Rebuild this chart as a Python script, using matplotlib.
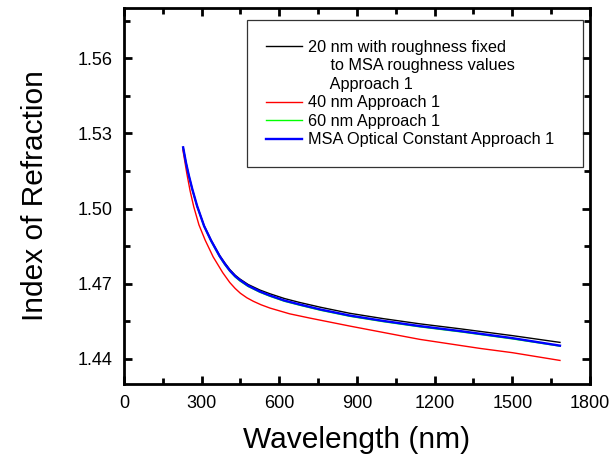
import matplotlib.pyplot as plt
from matplotlib.lines import Line2D
from matplotlib.ticker import MultipleLocator

plt.rcParams['font.family'] = ['Liberation Sans', 'DejaVu Sans']

# values (wavelength in nm, index n)
wl_black = [229, 240, 251, 265, 283, 310, 337, 370, 390, 409, 430, 448, 480,
            525, 564, 620, 680, 760, 873, 1000, 1143, 1300, 1500, 1684]
n_black = [1.5244, 1.5183, 1.5132, 1.5075, 1.5010, 1.4932, 1.4874, 1.4813,
           1.4783, 1.4757, 1.4734, 1.4719, 1.4697, 1.4675, 1.4660, 1.4641,
           1.4625, 1.4606, 1.4582, 1.4561, 1.4540, 1.4520, 1.4493, 1.4466]

wl_red = [228, 236, 243, 256, 270, 290, 314, 345, 382, 409, 430, 450, 475,
          500, 530, 564, 640, 718, 873, 1066, 1143, 1375, 1500, 1684]
n_red = [1.5234, 1.5185, 1.5141, 1.5070, 1.5007, 1.4935, 1.4874, 1.4807,
         1.4744, 1.4705, 1.4681, 1.4662, 1.4644, 1.4630, 1.4616, 1.4603,
         1.4580, 1.4563, 1.4531, 1.4493, 1.4478, 1.4442, 1.4425, 1.4394]

wl_green = [229, 240, 251, 265, 283, 310, 337, 370, 390, 409, 430, 448, 480,
            525, 564, 620, 680, 760, 873, 1000, 1143, 1300, 1500, 1684]
n_green = [1.5243, 1.5181, 1.5130, 1.5072, 1.5007, 1.4928, 1.4869, 1.4807,
           1.4776, 1.4750, 1.4727, 1.4711, 1.4689, 1.4666, 1.4650, 1.4630,
           1.4614, 1.4594, 1.4570, 1.4549, 1.4528, 1.4508, 1.4480, 1.4451]

wl_blue = [229, 240, 251, 265, 283, 310, 337, 370, 390, 409, 430, 448, 480,
           525, 564, 620, 680, 760, 873, 1000, 1143, 1300, 1500, 1684]
n_blue = [1.5244, 1.5183, 1.5132, 1.5075, 1.5010, 1.4930, 1.4872, 1.4810,
          1.4779, 1.4753, 1.4730, 1.4715, 1.4692, 1.4669, 1.4653, 1.4633,
          1.4617, 1.4597, 1.4573, 1.4552, 1.4531, 1.4511, 1.4483, 1.4453]

labels = ["20 nm with roughness fixed",
          "     to MSA roughness values",
          "     Approach 1",
          "40 nm Approach 1",
          "60 nm Approach 1",
          "MSA Optical Constant Approach 1  "]

fig = plt.figure(figsize=(6.13, 4.59), dpi=100)
ax = fig.add_axes([0.202, 0.1634, 0.7605, 0.8192])

l1, = ax.plot(wl_black, n_black, color='black', lw=1.0)
l2, = ax.plot(wl_red, n_red, color='#ff0000', lw=1.0)
l3, = ax.plot(wl_green, n_green, color='#00ff00', lw=1.0)
l4, = ax.plot(wl_blue, n_blue, color='#0000ff', lw=1.7)

ax.set_xlim(0, 1800)
ax.set_ylim(1.43, 1.58)
ax.xaxis.set_major_locator(MultipleLocator(300))
ax.xaxis.set_minor_locator(MultipleLocator(150))
ax.yaxis.set_major_locator(MultipleLocator(0.03))
ax.yaxis.set_minor_locator(MultipleLocator(0.015))
ax.yaxis.set_major_formatter(plt.FormatStrFormatter('%.2f'))

ax.tick_params(which='both', direction='in', top=True, right=True, width=2,
               labelsize=13, pad=8)
ax.tick_params(which='major', length=6)
ax.tick_params(which='minor', length=4)
for s in ax.spines.values():
    s.set_linewidth(2)

ax.set_xlabel("Wavelength (nm)", fontsize=21.5, labelpad=10)
ax.set_ylabel("Index of Refraction", fontsize=21.5, labelpad=21)

blank = Line2D([], [], color='none')
leg = ax.legend([l1, blank, blank, l2, l3, l4], labels,
                loc='upper right', bbox_to_anchor=(0.985, 0.968), fontsize=11.7,
                frameon=True, fancybox=False, shadow=False, handlelength=2.2,
                handletextpad=0.4, labelspacing=0.22, borderpad=1.2,
                borderaxespad=0)
leg.get_frame().set_edgecolor('black')
leg.get_frame().set_linewidth(0.9)

fig.savefig("out.png", dpi=100)
